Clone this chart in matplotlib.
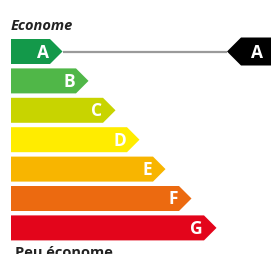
import matplotlib
matplotlib.use("Agg")
import matplotlib.pyplot as plt

# energy classes, best to worst
classes = ["A", "B", "C", "D", "E", "F", "G"]
colors = ["#13994a", "#50b748", "#c8d400", "#ffec00", "#f8b500", "#ec6a10", "#e3051b"]
# length of each coloured band (px, up to where the point starts)
band_end = [50, 76, 103, 127, 153, 179, 204]
rating = "A"
top_label = "Econome"
bottom_label = "Peu économe"

plt.rcParams["font.family"] = ["Open Sans", "DejaVu Sans"]

fig = plt.figure(figsize=(2.71, 2.54), dpi=100)
ax = fig.add_axes([0, 0, 1, 1])
ax.set_xlim(0, 271)
ax.set_ylim(254, 0)
ax.axis("off")

x0 = 11
row0 = 51.5
pitch = 29.4
h = 25.0

for i, (c, col, end) in enumerate(zip(classes, colors, band_end)):
    yc = row0 + i * pitch
    xs = [x0, end, end + h / 2, end, x0]
    ys = [yc - h / 2, yc - h / 2, yc, yc + h / 2, yc + h / 2]
    ax.fill(xs, ys, color=col, lw=0)
    ax.text(end - 1, yc + 1, c, color="white", fontsize=12.5, fontweight="bold",
            ha="right", va="center")

# pointer to the rated class
k = classes.index(rating)
yr = row0 + k * pitch
tip = band_end[k] + h / 2
ax.plot([tip, 227], [yr, yr], color="#9a9a9a", lw=1.6, solid_capstyle="butt")
hb = 28
ax.fill([227, 227 + hb / 2, 275, 275, 227 + hb / 2],
        [yr, yr - hb / 2, yr - hb / 2, yr + hb / 2, yr + hb / 2],
        color="black", lw=0)
ax.text(257, yr + 1, rating, color="white", fontsize=12.5, fontweight="bold",
        ha="center", va="center")

ax.text(x0, 29.5, top_label, fontsize=10.5, fontweight="bold", style="italic",
        color="#222222", ha="left", va="baseline")
ax.text(15, 257, bottom_label, fontsize=10.5, fontweight="bold",
        color="#222222", ha="left", va="baseline")

fig.savefig("out.png", dpi=100)
